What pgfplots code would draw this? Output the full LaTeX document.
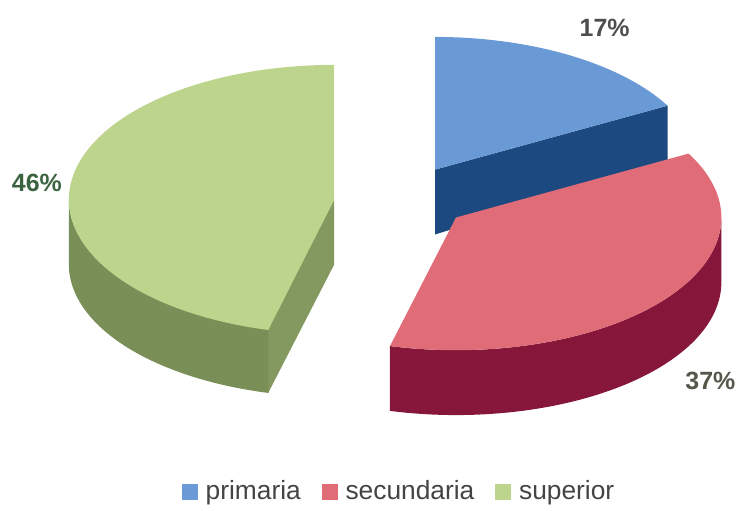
\documentclass[border=0pt]{standalone}
\usepackage{fontspec}
\setmainfont{Liberation Sans}
\usepackage{pgfplots}
\pgfplotsset{compat=1.18}
\definecolor{bluetop}{HTML}{6A9AD6}
\definecolor{blueside}{HTML}{1C4A80}
\definecolor{redtop}{HTML}{E06C78}
\definecolor{redside}{HTML}{86173A}
\definecolor{greentop}{HTML}{BDD48C}
\definecolor{greenside}{HTML}{798F57}
\definecolor{greencut}{HTML}{84995F}
\definecolor{labgray}{HTML}{4D4D4D}
\definecolor{labolive}{HTML}{56564A}
\definecolor{labgreen}{HTML}{3B6340}
\definecolor{legtext}{HTML}{444444}
\begin{document}
\begin{tikzpicture}
\begin{axis}[
  scale only axis, width=371pt, height=256pt,
  xmin=0, xmax=742, ymin=0, ymax=512, y dir=reverse,
  hide axis, clip=false,
  legend style={at={(axis cs:401,493)}, anchor=center, draw=none, fill=none,
    legend columns=3, font=\fontsize{13.2}{15}\selectfont, text=legtext,
    /tikz/every even column/.append style={column sep=8.5pt}},
  legend cell align=left,
]
% page frame (invisible)
\addplot[draw=none, forget plot] coordinates {(0,0) (742,512)};

% ---------- primaria 17% (0 -> 17) ----------
\addplot[fill=blueside, draw=none, forget plot] coordinates
  {(436,170) (669.1,105.9) (669.1,163) (436,235)} -- cycle;
\addplot[fill=bluetop, draw=none, forget plot, domain=0:17, samples=40, variable=\t]
  ({436+266*sin(3.6*\t)}, {170-133*cos(3.6*\t)}) -- (436,170) -- cycle;

% ---------- secundaria 37% (17 -> 54) ----------
\addplot[fill=redside, draw=none, forget plot, domain=0:2, samples=121, variable=\t]
  ({457+266*sin(3.6*(25+(54-25)*min(1,1.05*(1-abs(1-\t)))))},
   {218-133*cos(3.6*(25+(54-25)*min(1,1.05*(1-abs(1-\t)))))+65*(\t>1.0001)}) -- cycle;
\addplot[fill=redtop, draw=none, forget plot, domain=17:54, samples=60, variable=\t]
  ({457+266*sin(3.6*\t)}, {218-133*cos(3.6*\t)}) -- (457,218) -- cycle;

% ---------- superior 46% (54 -> 100) ----------
\addplot[fill=greencut, draw=none, forget plot] coordinates
  {(335,200) (268.8,328.8) (268.8,393.8) (335,265)} -- cycle;
\addplot[fill=greenside, draw=none, forget plot, domain=0:2, samples=121, variable=\t]
  ({335+266*sin(3.6*(54+(75-54)*min(1,1.05*(1-abs(1-\t)))))},
   {200-133*cos(3.6*(54+(75-54)*min(1,1.05*(1-abs(1-\t)))))+65*(\t>1.0001)}) -- cycle;
\addplot[fill=greentop, draw=none, forget plot, domain=54:100, samples=70, variable=\t]
  ({335+266*sin(3.6*\t)}, {200-135*cos(3.6*\t)}) -- (335,200) -- cycle;

% ---------- labels ----------
\node[text=labgray, font=\fontsize{12.5}{14}\selectfont\bfseries] at (axis cs:606,28) {17\%};
\node[text=labolive, font=\fontsize{12.5}{14}\selectfont\bfseries] at (axis cs:712,382) {37\%};
\node[text=labgreen, font=\fontsize{12.5}{14}\selectfont\bfseries] at (axis cs:37,183) {46\%};

% ---------- legend ----------
\addlegendimage{legend image code/.code={\fill[bluetop] (0pt,-3.6pt) rectangle (7.4pt,3.8pt); \path (9.5pt,0pt);}}
\addlegendentry{primaria}
\addlegendimage{legend image code/.code={\fill[redtop] (0pt,-3.6pt) rectangle (7.4pt,3.8pt); \path (9.5pt,0pt);}}
\addlegendentry{secundaria}
\addlegendimage{legend image code/.code={\fill[greentop] (0pt,-3.6pt) rectangle (7.4pt,3.8pt); \path (9.5pt,0pt);}}
\addlegendentry{superior}
\end{axis}
\end{tikzpicture}
\end{document}
